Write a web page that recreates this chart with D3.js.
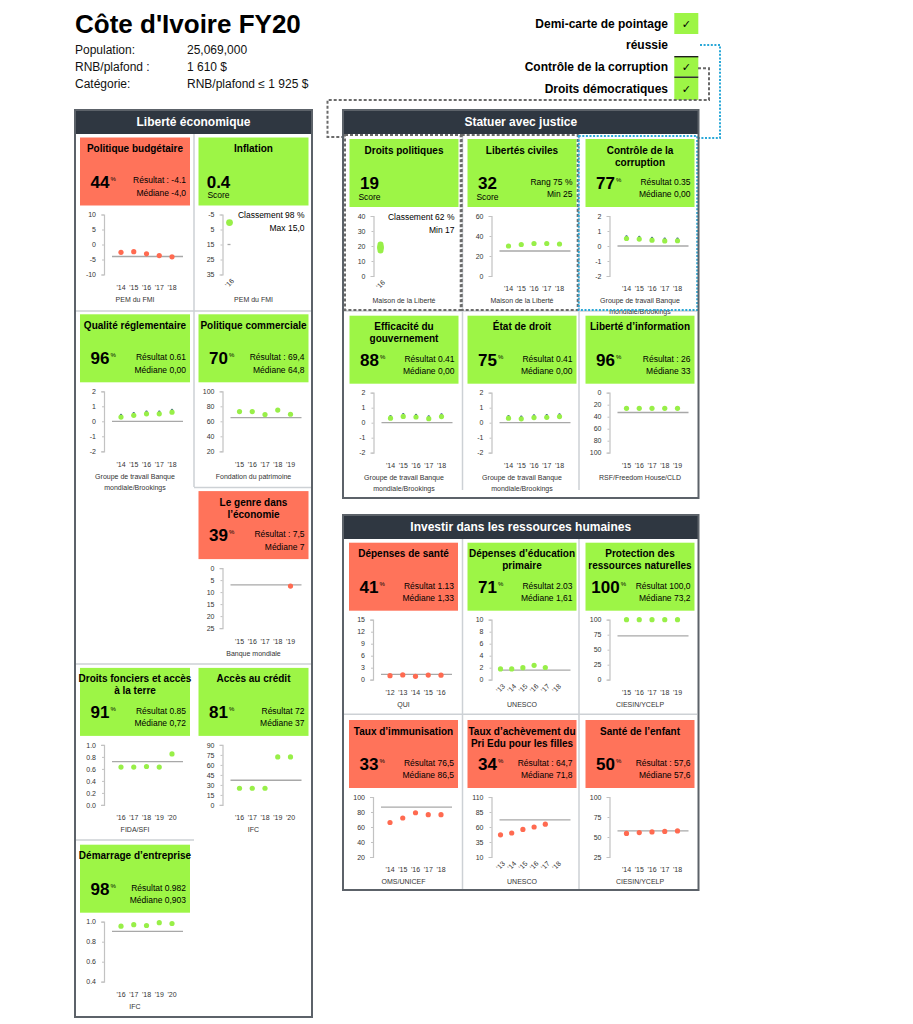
<!DOCTYPE html>
<html>
<head>
<meta charset="utf-8">
<script src="https://cdn.jsdelivr.net/npm/d3@7"></script>
<style>
  body { margin: 0; background: #fff; }
  svg { display: block; }
</style>
</head>
<body>
<svg id="card" width="913" height="1024"></svg>
<script>
// ---------- header data
const countryTitle = "Côte d'Ivoire FY20";
const infoLabels = ["Population:", "RNB/plafond :", "Catégorie:"];
const infoValues = ["25,069,000", "1 610 $", "RNB/plafond ≤ 1 925 $"];
const hurdleLabels = ["Demi-carte de pointage", "Contrôle de la corruption", "Droits démocratiques"];
const hurdleSubLabel = "réussie";
const hurdlePassed = [true, true, true];
const panelTitles = ["Liberté économique", "Statuer avec justice", "Investir dans les ressources humaines"];

// ---------- year categories
const yrs12_16 = ["'12", "'13", "'14", "'15", "'16"];
const yrs13_18 = ["'13", "'14", "'15", "'16", "'17", "'18"];
const yrs14_18 = ["'14", "'15", "'16", "'17", "'18"];
const yrs15_19 = ["'15", "'16", "'17", "'18", "'19"];
const yrs16_20 = ["'16", "'17", "'18", "'19", "'20"];
const yrs16 = ["'16"];

// ---------- series values, tick labels, reference lines
const budgetValues = [-2.6, -2.4, -3.1, -3.7, -4.1];
const budgetTicks = [10, 5, 0, -5, -10];
const budgetMedian = -4.0;

const inflationValues = [0.4];
const inflationTicks = [-5, 5, 15, 25, 35];
const inflationMax = 15.0;

const wgiTicks = [2, 1, 0, -1, -2];
const wgiMedian = 0;
const regQualityValues = [0.28, 0.4, 0.5, 0.5, 0.61];
const corruptionValues = [0.5, 0.46, 0.39, 0.34, 0.35];
const govEffValues = [0.3, 0.42, 0.38, 0.27, 0.41];
const ruleLawValues = [0.3, 0.26, 0.34, 0.36, 0.41];

const tradeValues = [73, 73, 69, 75, 69.4];
const tradeTicks = [100, 80, 60, 40, 20];
const tradeMedian = 64.8;

const genderValues = [null, null, null, null, 7.5];
const genderTicks = [0, 5, 10, 15, 20, 25];
const genderMedian = 7;

const landValues = [0.63, 0.63, 0.64, 0.63, 0.85];
const landTicks = [1.0, 0.8, 0.6, 0.4, 0.2, 0.0];
const landMedian = 0.72;

const creditValues = [25, 25, 25, 72, 72];
const creditTicks = [90, 75, 60, 45, 30, 15, 0];
const creditMedian = 37;

const businessValues = [0.955, 0.97, 0.962, 0.99, 0.982];
const businessTicks = [1.0, 0.8, 0.6, 0.4];
const businessMedian = 0.903;

const polRightsValues = [19];
const polRightsRange = [17, 21];
const polRightsTicks = [40, 30, 20, 10, 0];

const civLibValues = [30, 31.5, 32.5, 32.5, 32];
const civLibTicks = [60, 40, 20, 0];
const civLibMin = 25;

const infoFreeValues = [26, 26, 26, 26, 26];
const infoFreeTicks = [0, 20, 40, 60, 80, 100];
const infoFreeMedian = 33;

const healthValues = [1.0, 1.2, 0.85, 1.15, 1.13];
const healthTicks = [15, 12, 9, 6, 3, 0];
const healthMedian = 1.33;

const eduValues = [1.8, 1.8, 2.0, 2.4, 2.03, null];
const eduTicks = [10, 8, 6, 4, 2, 0];
const eduMedian = 1.61;

const natResValues = [100, 100, 100, 100, 100];
const natResTicks = [100, 75, 50, 25, 0];
const natResMedian = 73.2;

const immunValues = [66, 72, 79, 76.5, 76.5];
const immunTicks = [100, 80, 60, 40, 20];
const immunMedian = 86.5;

const girlsEduValues = [47, 50, 56, 60, 64.7, null];
const girlsEduTicks = [110, 85, 60, 35, 10];
const girlsEduMedian = 71.8;

const childValues = [54.5, 55.5, 56.3, 57, 57.6];
const childTicks = [100, 75, 50, 25];
const childMedian = 57.6;

const wgiSource = ["Groupe de travail Banque", "mondiale/Brookings"];
const fmt1 = d3.format(".1f");

// ---------- indicator table (panel, column, row)
const cards = [
  { p: 0, c: 0, r: 0, title: ["Politique budgétaire"], pass: false, big: "44", pct: true,
    res: ["Résultat : -4.1", "Médiane -4,0"], years: yrs14_18, values: budgetValues, ticks: budgetTicks, ref: budgetMedian, source: ["PEM du FMI"] },
  { p: 0, c: 1, r: 0, title: ["Inflation"], pass: true, big: "0.4", pct: false, res: [],
    notes: ["Classement 98 %", "Max 15,0"], years: yrs16, values: inflationValues, ticks: inflationTicks, ref: inflationMax, rotate: true, source: ["PEM du FMI"] },
  { p: 0, c: 0, r: 1, title: ["Qualité réglementaire"], pass: true, big: "96", pct: true,
    res: ["Résultat 0.61", "Médiane 0,00"], years: yrs14_18, values: regQualityValues, ticks: wgiTicks, ref: wgiMedian, wgi: true, source: wgiSource },
  { p: 0, c: 1, r: 1, title: ["Politique commerciale"], pass: true, big: "70", pct: true,
    res: ["Résultat : 69,4", "Médiane 64,8"], years: yrs15_19, values: tradeValues, ticks: tradeTicks, ref: tradeMedian, source: ["Fondation du patrimoine"] },
  { p: 0, c: 1, r: 2, title: ["Le genre dans", "l’économie"], pass: false, big: "39", pct: true,
    res: ["Résultat : 7,5", "Médiane 7"], years: yrs15_19, values: genderValues, ticks: genderTicks, ref: genderMedian, source: ["Banque mondiale"] },
  { p: 0, c: 0, r: 3, title: ["Droits fonciers et accès", "à la terre"], pass: true, big: "91", pct: true,
    res: ["Résultat 0.85", "Médiane 0,72"], years: yrs16_20, values: landValues, ticks: landTicks, ref: landMedian, fmt: fmt1, source: ["FIDA/SFI"] },
  { p: 0, c: 1, r: 3, title: ["Accès au crédit"], pass: true, big: "81", pct: true,
    res: ["Résultat 72", "Médiane 37"], years: yrs16_20, values: creditValues, ticks: creditTicks, ref: creditMedian, source: ["IFC"] },
  { p: 0, c: 0, r: 4, title: ["Démarrage d’entreprise"], pass: true, big: "98", pct: true,
    res: ["Résultat 0.982", "Médiane 0,903"], years: yrs16_20, values: businessValues, ticks: businessTicks, ref: businessMedian, fmt: fmt1, source: ["IFC"] },

  { p: 1, c: 0, r: 0, title: ["Droits politiques"], pass: true, big: "19", pct: false, res: [],
    notes: ["Classement 62 %", "Min 17"], years: yrs16, values: polRightsValues, range: polRightsRange, ticks: polRightsTicks, ref: null, rotate: true, source: ["Maison de la Liberté"] },
  { p: 1, c: 1, r: 0, title: ["Libertés civiles"], pass: true, big: "32", pct: false,
    res: ["Rang 75 %", "Min 25"], years: yrs14_18, values: civLibValues, ticks: civLibTicks, ref: civLibMin, source: ["Maison de la Liberté"] },
  { p: 1, c: 2, r: 0, title: ["Contrôle de la", "corruption"], pass: true, big: "77", pct: true,
    res: ["Résultat 0.35", "Médiane 0,00"], years: yrs14_18, values: corruptionValues, ticks: wgiTicks, ref: wgiMedian, wgi: true, source: wgiSource },
  { p: 1, c: 0, r: 1, title: ["Efficacité du", "gouvernement"], pass: true, big: "88", pct: true,
    res: ["Résultat 0.41", "Médiane 0,00"], years: yrs14_18, values: govEffValues, ticks: wgiTicks, ref: wgiMedian, wgi: true, source: wgiSource },
  { p: 1, c: 1, r: 1, title: ["État de droit"], pass: true, big: "75", pct: true,
    res: ["Résultat 0.41", "Médiane 0,00"], years: yrs14_18, values: ruleLawValues, ticks: wgiTicks, ref: wgiMedian, wgi: true, source: wgiSource },
  { p: 1, c: 2, r: 1, title: ["Liberté d’information"], pass: true, big: "96", pct: true,
    res: ["Résultat : 26", "Médiane 33"], years: yrs15_19, values: infoFreeValues, ticks: infoFreeTicks, ref: infoFreeMedian, source: ["RSF/Freedom House/CLD"] },

  { p: 2, c: 0, r: 0, title: ["Dépenses de santé"], pass: false, big: "41", pct: true,
    res: ["Résultat 1.13", "Médiane 1,33"], years: yrs12_16, values: healthValues, ticks: healthTicks, ref: healthMedian, source: ["QUI"] },
  { p: 2, c: 1, r: 0, title: ["Dépenses d’éducation", "primaire"], pass: true, big: "71", pct: true,
    res: ["Résultat 2.03", "Médiane 1,61"], years: yrs13_18, values: eduValues, ticks: eduTicks, ref: eduMedian, rotate: true, source: ["UNESCO"] },
  { p: 2, c: 2, r: 0, title: ["Protection des", "ressources naturelles"], pass: true, big: "100", pct: true,
    res: ["Résultat 100,0", "Médiane 73,2"], years: yrs15_19, values: natResValues, ticks: natResTicks, ref: natResMedian, source: ["CIESIN/YCELP"] },
  { p: 2, c: 0, r: 1, title: ["Taux d’immunisation"], pass: false, big: "33", pct: true,
    res: ["Résultat 76,5", "Médiane 86,5"], years: yrs14_18, values: immunValues, ticks: immunTicks, ref: immunMedian, source: ["OMS/UNICEF"] },
  { p: 2, c: 1, r: 1, title: ["Taux d’achèvement du", "Pri Edu pour les filles"], pass: false, big: "34", pct: true,
    res: ["Résultat : 64,7", "Médiane 71,8"], years: yrs13_18, values: girlsEduValues, ticks: girlsEduTicks, ref: girlsEduMedian, rotate: true, source: ["UNESCO"] },
  { p: 2, c: 2, r: 1, title: ["Santé de l’enfant"], pass: false, big: "50", pct: true,
    res: ["Résultat : 57,6", "Médiane 57,6"], years: yrs14_18, values: childValues, ticks: childTicks, ref: childMedian, source: ["CIESIN/YCELP"] }
];

// ---------- layout
const FONT = "'Liberation Sans', Arial, Helvetica, sans-serif";
const GREEN = "#9df546", RED = "#ff735a";
const PT_GREEN = "#98ef48", PT_RED = "#ff6a50";
const BORDER = "#5c6269", HEADBAR = "#2f3741", DIVIDER = "#cdd1d5";

const panels = [
  { x: 75, y: 110, w: 237, h: 907, colX: [80, 198.5], boxW: 110, rowY: [137.5, 314.3, 491.1, 667.9, 844.7] },
  { x: 343, y: 110, w: 355.5, h: 388, colX: [349.5, 467.5, 585.5], boxW: 109, rowY: [139, 315.7] },
  { x: 343, y: 515, w: 355.5, h: 375, colX: [349, 467.5, 585.5], boxW: 109, rowY: [542.7, 720] }
];

const svg = d3.select("#card").attr("font-family", FONT);
svg.append("rect").attr("width", 913).attr("height", 1024).attr("fill", "#fff");

// ---------- header
svg.append("text").attr("x", 75).attr("y", 33).attr("font-size", 26).attr("font-weight", "bold")
  .attr("fill", "#000").text(countryTitle);
infoLabels.forEach((d, i) => {
  svg.append("text").attr("x", 75).attr("y", 54 + i * 17).attr("font-size", 12).attr("fill", "#111").text(d);
  svg.append("text").attr("x", 187).attr("y", 54 + i * 17).attr("font-size", 12).attr("fill", "#111").text(infoValues[i]);
});

const hurdleRows = [{ cy: 24, y0: 13, y1: 34 }, { cy: 67, y0: 56.7, y1: 76.7 }, { cy: 89, y0: 77.7, y1: 100 }];
hurdleLabels.forEach((d, i) => {
  const h = hurdleRows[i];
  svg.append("text").attr("x", 668).attr("y", h.cy).attr("dy", "0.35em").attr("text-anchor", "end")
    .attr("font-size", 12).attr("font-weight", "bold").attr("fill", "#000").text(d);
  svg.append("rect").attr("x", 674.3).attr("y", h.y0).attr("width", 24).attr("height", h.y1 - h.y0)
    .attr("fill", hurdlePassed[i] ? GREEN : RED);
  svg.append("text").attr("x", 686.3).attr("y", (h.y0 + h.y1) / 2).attr("dy", "0.38em").attr("text-anchor", "middle")
    .attr("font-size", 11).attr("font-family", "'DejaVu Sans', sans-serif").attr("fill", "#000").text(hurdlePassed[i] ? "✓" : "✗");
});
svg.append("text").attr("x", 668).attr("y", 45).attr("dy", "0.35em").attr("text-anchor", "end")
  .attr("font-size", 12).attr("font-weight", "bold").attr("fill", "#000").text(hurdleSubLabel);
[56.7, 77.2].forEach(yy => svg.append("line").attr("x1", 674.3).attr("x2", 698.3).attr("y1", yy).attr("y2", yy)
  .attr("stroke", "#111").attr("stroke-width", 1.3));

// ---------- panel dividers
const dividers = [
  [194, 134, 194, 487], [76, 311, 311, 311], [194, 487.5, 311, 487.5], [76, 664, 311, 664], [76, 840, 194, 840],
  [462.5, 134, 462.5, 490], [579, 134, 579, 490], [344, 311, 697, 311],
  [462.5, 539, 462.5, 889], [579, 539, 579, 889], [344, 714.3, 697, 714.3]
];
dividers.forEach(d => svg.append("line").attr("x1", d[0]).attr("y1", d[1]).attr("x2", d[2]).attr("y2", d[3])
  .attr("stroke", DIVIDER).attr("stroke-width", 1.5));

// ---------- cards
function drawCard(c) {
  const P = panels[c.p];
  const bx = P.colX[c.c], by = P.rowY[c.r], bw = P.boxW;
  const g = svg.append("g");

  g.append("rect").attr("x", bx).attr("y", by).attr("width", bw).attr("height", 68)
    .attr("fill", c.pass ? GREEN : RED);
  c.title.forEach((t, i) => g.append("text").attr("x", bx + bw / 2).attr("y", by + 11 + i * 12).attr("dy", "0.35em")
    .attr("text-anchor", "middle").attr("font-size", 10).attr("font-weight", "bold").attr("fill", "#000").text(t));

  const big = g.append("text").attr("x", bx + 20).attr("y", by + 50).attr("text-anchor", "middle")
    .attr("font-size", 17).attr("font-weight", "bold").attr("fill", "#000").text(c.big);
  if (c.pct) {
    const w = big.node().getComputedTextLength();
    g.append("text").attr("x", bx + 20 + w / 2 + 1).attr("y", by + 43).attr("font-size", 6).attr("fill", "#000").text("%");
  } else {
    g.append("text").attr("x", bx + 20).attr("y", by + 58).attr("dy", "0.35em").attr("text-anchor", "middle")
      .attr("font-size", 8.5).attr("fill", "#000").text("Score");
  }
  c.res.forEach((t, i) => g.append("text").attr("x", bx + bw - 4).attr("y", by + 43 + i * 12.5).attr("dy", "0.35em")
    .attr("text-anchor", "end").attr("font-size", 8.5).attr("fill", "#000").text(t));

  // chart
  const top = by + 77, bot = by + 137;
  const axisX = bx + 24;
  const t = c.ticks;
  const y = d3.scaleLinear().domain([t[t.length - 1], t[0]]).range([bot, top]);
  const n = c.years.length;
  const x = d3.scalePoint().domain(c.years)
    .range(n === 1 ? [axisX + 7, axisX + 7] : n === 6 ? [bx + 33, bx + 89] : [bx + 41, bx + 92]);

  const ax = g.append("g").attr("transform", `translate(${axisX},0)`)
    .call(d3.axisLeft(y).tickValues(t).tickFormat(c.fmt || (d => String(d)))
      .tickSizeInner(2).tickSizeOuter(3).tickPadding(6));
  ax.attr("font-family", FONT);
  ax.select(".domain").attr("stroke", "#c2c2c2").attr("stroke-width", 1.2);
  ax.selectAll(".tick line").attr("stroke", "#c2c2c2");
  ax.selectAll(".tick text").attr("font-size", 7).attr("fill", "#333");

  if (c.ref != null) {
    const x0 = n === 1 ? axisX + 5 : bx + 32;
    const x1 = n === 1 ? axisX + 8 : bx + 103;
    g.append("line").attr("x1", x0).attr("x2", x1).attr("y1", y(c.ref)).attr("y2", y(c.ref))
      .attr("stroke", "#a8a8a8").attr("stroke-width", 1.3);
  }

  const col = c.pass ? PT_GREEN : PT_RED;
  const pts = c.years.map((yr, i) => ({ yr, v: c.values[i] })).filter(d => d.v != null);

  if (c.wgi) {
    g.selectAll(null).data(pts).enter().append("line")
      .attr("x1", d => x(d.yr)).attr("x2", d => x(d.yr))
      .attr("y1", d => y(d.v + 0.14)).attr("y2", d => y(d.v))
      .attr("stroke", "#34558f").attr("stroke-width", 2.4).attr("stroke-linecap", "round");
  }
  if (c.range) {
    g.append("line").attr("x1", x(c.years[0])).attr("x2", x(c.years[0]))
      .attr("y1", y(c.range[0])).attr("y2", y(c.range[1]))
      .attr("stroke", col).attr("stroke-width", 6).attr("stroke-linecap", "round");
  }
  g.selectAll(null).data(pts).enter().append("circle")
    .attr("cx", d => x(d.yr)).attr("cy", d => y(d.v))
    .attr("r", n === 1 ? 3.4 : 2.6).attr("fill", col);

  c.years.forEach(yr => {
    if (c.rotate) {
      g.append("text").attr("transform", `translate(${x(yr) + 5},${by + 144}) rotate(-45)`)
        .attr("text-anchor", "end").attr("font-size", 7).attr("fill", "#333").text(yr);
    } else {
      g.append("text").attr("x", x(yr)).attr("y", by + 150).attr("dy", "0.35em").attr("text-anchor", "middle")
        .attr("font-size", 7).attr("fill", "#333").text(yr);
    }
  });

  (c.notes || []).forEach((s, i) => g.append("text").attr("x", bx + bw - 4).attr("y", by + 78 + i * 13).attr("dy", "0.35em")
    .attr("text-anchor", "end").attr("font-size", 8.5).attr("fill", "#000").text(s));

  c.source.forEach((s, i) => g.append("text").attr("x", bx + bw / 2).attr("y", by + 162 + i * 11).attr("dy", "0.35em")
    .attr("text-anchor", "middle").attr("font-size", 7).attr("fill", "#333").text(s));
}
cards.forEach(drawCard);

// ---------- hurdle connectors
svg.append("path").attr("d", "M698,68.3 H709 V100 H327.5 V137 H345")
  .attr("fill", "none").attr("stroke", "#6a6a6a").attr("stroke-width", 2).attr("stroke-dasharray", "3,2");
[[345, 135, 115.7, 175], [461.7, 135, 116, 175]].forEach(r => svg.append("rect")
  .attr("x", r[0]).attr("y", r[1]).attr("width", r[2]).attr("height", r[3])
  .attr("fill", "none").attr("stroke", "#6a6a6a").attr("stroke-width", 2).attr("stroke-dasharray", "3,2"));
svg.append("path").attr("d", "M700,45 H720 V138 H697")
  .attr("fill", "none").attr("stroke", "#2aa8d8").attr("stroke-width", 2).attr("stroke-dasharray", "2,1.6");
svg.append("rect").attr("x", 578.7).attr("y", 136).attr("width", 118.5).attr("height", 174)
  .attr("fill", "none").attr("stroke", "#2aa8d8").attr("stroke-width", 2).attr("stroke-dasharray", "2,1.6");

// ---------- panel frames and header bars
panels.forEach((P, i) => {
  svg.append("rect").attr("x", P.x).attr("y", P.y).attr("width", P.w).attr("height", 24).attr("fill", HEADBAR);
  svg.append("text").attr("x", P.x + P.w / 2).attr("y", P.y + 12).attr("dy", "0.36em").attr("text-anchor", "middle")
    .attr("font-size", 12).attr("font-weight", "bold").attr("fill", "#fff").text(panelTitles[i]);
  svg.append("rect").attr("x", P.x).attr("y", P.y).attr("width", P.w).attr("height", P.h)
    .attr("fill", "none").attr("stroke", BORDER).attr("stroke-width", 2);
});
</script>
</body>
</html>
